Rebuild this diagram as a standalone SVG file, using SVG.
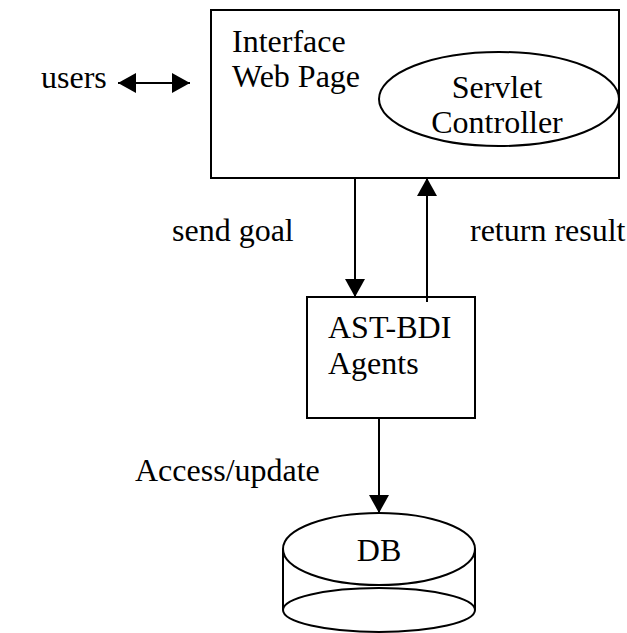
<svg xmlns="http://www.w3.org/2000/svg" width="627" height="633" viewBox="0 0 627 633">
<defs>
<marker id="ah" viewBox="0 0 18 20" refX="18" refY="10" markerWidth="18" markerHeight="20" markerUnits="userSpaceOnUse" orient="auto-start-reverse">
<path d="M0,0 L18,10 L0,20 Z" fill="#000"/>
</marker>
</defs>
<g id="users"><text font-family="Liberation Serif" font-size="32" x="41" y="88">users</text></g>
<g id="interface">
<rect fill="none" stroke="#000" stroke-width="2" x="211" y="10" width="408" height="168"/>
<text font-family="Liberation Serif" font-size="32" x="232" y="52">Interface</text>
<text font-family="Liberation Serif" font-size="32" x="232" y="87">Web Page</text>
</g>
<g id="servlet">
<ellipse fill="none" stroke="#000" stroke-width="2" cx="499" cy="99" rx="120" ry="47"/>
<text font-family="Liberation Serif" font-size="32" x="497" y="98" text-anchor="middle">Servlet</text>
<text font-family="Liberation Serif" font-size="32" x="497" y="133" text-anchor="middle">Controller</text>
</g>
<g id="agents">
<rect fill="none" stroke="#000" stroke-width="2" x="307" y="297" width="168" height="121"/>
<text font-family="Liberation Serif" font-size="32" x="328" y="338">AST-BDI</text>
<text font-family="Liberation Serif" font-size="32" x="328" y="374">Agents</text>
</g>
<g id="db">
<path fill="none" stroke="#000" stroke-width="2" d="M283,549 V610 M475,549 V610"/>
<ellipse fill="none" stroke="#000" stroke-width="2" cx="379" cy="610" rx="96" ry="22"/>
<ellipse fill="#fff" stroke="#000" stroke-width="2" cx="379" cy="549" rx="96" ry="36"/>
<text font-family="Liberation Serif" font-size="32" x="379" y="561" text-anchor="middle">DB</text>
</g>
<g id="connectors">
<g fill="none" stroke="#000" stroke-width="2">
<line x1="118" y1="83" x2="190" y2="83" marker-start="url(#ah)" marker-end="url(#ah)"/>
<line x1="355" y1="178" x2="355" y2="297" marker-end="url(#ah)"/>
<line x1="427" y1="302" x2="427" y2="178" marker-end="url(#ah)"/>
<line x1="379" y1="418" x2="379" y2="513" marker-end="url(#ah)"/>
</g>
<text font-family="Liberation Serif" font-size="32" x="172" y="241">send goal</text>
<text font-family="Liberation Serif" font-size="32" x="470" y="241">return result</text>
<text font-family="Liberation Serif" font-size="32" x="135" y="481">Access/update</text>
</g>
</svg>
